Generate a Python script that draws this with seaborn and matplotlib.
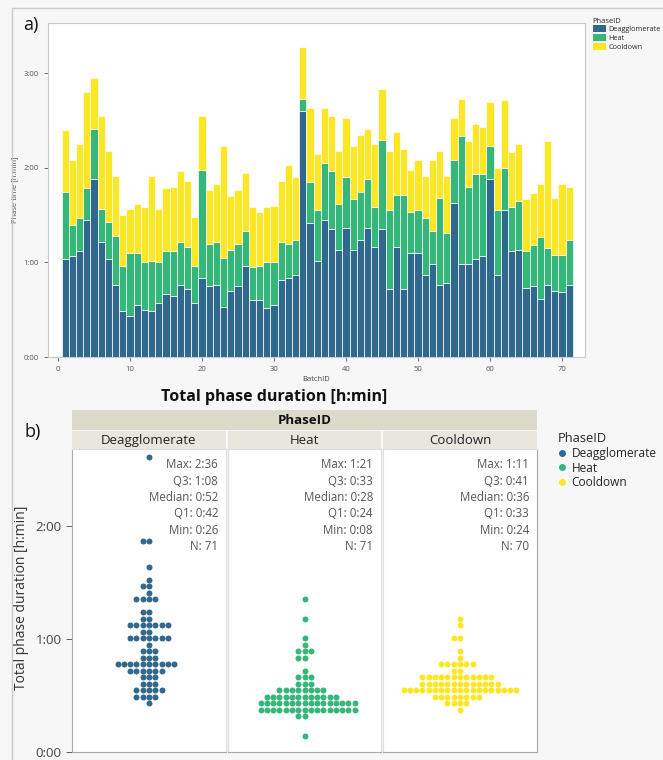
import numpy as np
import pandas as pd
import matplotlib.pyplot as plt
import seaborn as sns
from matplotlib.patches import Patch
from matplotlib.lines import Line2D
from matplotlib.ticker import FuncFormatter, MultipleLocator

# --- data (minutes per phase and batch) ---
phases = ["Deagglomerate", "Heat", "Cooldown"]
colors = ["#31688e", "#35b779", "#fde725"]
batch_ids = list(range(1, 72))

deagg = [62, 64, 67, 87, 113, 73, 62, 46, 29, 26,
         33, 30, 29, 34, 40, 39, 46, 43, 34, 50,
         45, 46, 32, 42, 45, 58, 36, 36, 31, 33,
         49, 50, 52, 156, 85, 61, 87, 81, 68, 82,
         68, 74, 82, 70, 81, 43, 70, 43, 66, 66,
         52, 59, 46, 47, 98, 59, 59, 62, 64, 113,
         52, 93, 67, 68, 44, 45, 37, 46, 42, 41, 46]
heat = [43, 20, 21, 20, 32, 21, 24, 31, 29, 40,
        33, 30, 32, 26, 27, 28, 27, 27, 24, 69,
        27, 27, 31, 26, 27, 22, 21, 22, 29, 27,
        24, 22, 22, 8, 26, 32, 36, 37, 29, 32,
        32, 31, 31, 25, 57, 50, 33, 60, 26, 27,
        36, 21, 55, 32, 27, 81, 49, 54, 52, 21,
        41, 27, 28, 31, 23, 26, 39, 23, 23, 24, 28]
cool = [39, 41, 47, 61, 32, 59, 45, 38, 32, 28,
        31, 35, 54, 34, 40, 41, 45, 42, 31, 34,
        34, 37, 71, 34, 34, 37, 38, 34, 35, 36,
        39, 50, 40, 33, 47, 36, 35, 35, 34, 38,
        34, 36, 32, 40, 32, 38, 40, 29, 27, 32,
        27, 45, 30, 36, 27, 24, 29, 32, 30, 28,
        27, 43, 35, 36, 33, 33, 34, 68, 36, 45, 34]

stats = {
    "Deagglomerate": ["Max: 2:36", "Q3: 1:08", "Median: 0:52", "Q1: 0:42", "Min: 0:26", "N: 71"],
    "Heat": ["Max: 1:21", "Q3: 0:33", "Median: 0:28", "Q1: 0:24", "Min: 0:08", "N: 71"],
    "Cooldown": ["Max: 1:11", "Q3: 0:41", "Median: 0:36", "Q1: 0:33", "Min: 0:24", "N: 70"],
}

df = pd.DataFrame({
    "BatchID": batch_ids * 3,
    "PhaseID": np.repeat(phases, len(batch_ids)),
    "Minutes": deagg + heat + cool,
})

sns.set_theme(style="white")
plt.rcParams["font.family"] = ["Open Sans", "DejaVu Sans"]

W, H = 663, 760
fig = plt.figure(figsize=(W / 100, H / 100), dpi=100, facecolor="#f7f7f7")


def px(x0, y0, x1, y1):
    # pixel box (from top-left) -> figure rect
    return [x0 / W, 1 - y1 / H, (x1 - x0) / W, (y1 - y0) / H]


def hmin(v, pos=None):
    v = int(round(v))
    return f"{v // 60}:{v % 60:02d}"


palette = dict(zip(phases, colors))
frame_col = "#c8c8c8"

# --- a) stacked phase times per batch ---
ax = fig.add_axes(px(48, 23, 585, 357))
sns.histplot(data=df, x="BatchID", weights="Minutes", hue="PhaseID",
             hue_order=phases[::-1], palette=palette, multiple="stack",
             discrete=True, shrink=1, alpha=1, edgecolor="white",
             linewidth=0.5, legend=False, ax=ax)
ax.set_facecolor("white")
ax.set_xlim(-1.4, 73.2)
ax.set_ylim(0, 212)
ax.yaxis.set_major_locator(MultipleLocator(60))
ax.yaxis.set_major_formatter(FuncFormatter(hmin))
ax.set_xticks(range(0, 71, 10))
ax.tick_params(labelsize=5.5, colors="#555555", length=3, width=0.6, direction="out",
               left=True, bottom=True)
ax.set_xlabel("BatchID", fontsize=5.5, color="#444444", labelpad=2)
ax.set_ylabel("Phase time [h:min]", fontsize=5.5, color="#444444")
for s in ax.spines.values():
    s.set_color(frame_col)
    s.set_linewidth(0.8)

handles = [Patch(facecolor=c, edgecolor="none") for c in colors]
fig.legend(handles, phases, title="PhaseID", loc="upper left",
           bbox_to_anchor=(589 / W, 1 - 14 / H), frameon=False, fontsize=5.2,
           title_fontsize=5.4, alignment="left", handlelength=1.9, handleheight=1.1,
           labelspacing=0.1, borderpad=0, handletextpad=0.25)

# --- b) swarm of phase durations ---
bw = 3.45
facets = [(72, 226), (228, 381), (383, 537)]
series = [deagg, heat, cool]
for i, (name, (x0, x1), vals, c) in enumerate(zip(phases, facets, series, colors)):
    bx = fig.add_axes(px(x0, 449, x1, 752))
    binned = (np.floor(np.array(vals) / bw) + 0.5) * bw
    sns.swarmplot(y=binned, color=c, size=4.3, linewidth=0, ax=bx)
    bx.set_facecolor("white")
    bx.set_xlim(-0.5, 0.5)
    bx.set_ylim(0, 161)
    bx.set_xticks([])
    bx.yaxis.set_major_locator(MultipleLocator(60))
    bx.yaxis.set_major_formatter(FuncFormatter(hmin))
    bx.set_ylabel("")
    if i == 0:
        bx.tick_params(axis="y", labelsize=9.5, colors="#444444", length=4, width=0.6, left=True)
    else:
        bx.tick_params(axis="y", left=False, labelleft=False)
    for s in bx.spines.values():
        s.set_color("#dddddd")
        s.set_linewidth(0.8)
    bx.spines["bottom"].set_color("#aaaaaa")
    bx.spines["left"].set_color("#aaaaaa" if i == 0 else "#dddddd")
    if i == 2:
        bx.spines["right"].set_color("#aaaaaa")

    # facet strip
    sx = fig.add_axes(px(x0, 431, x1, 449))
    sx.set_facecolor("#e9e7dd")
    sx.set_xticks([]); sx.set_yticks([])
    for s in sx.spines.values():
        s.set_visible(False)
    sx.text(0.5, 0.45, name, ha="center", va="center", fontsize=9.5, color="#222222",
            transform=sx.transAxes)

    # stats text
    for k, line in enumerate(stats[name]):
        fig.text((x1 - 8) / W, 1 - (465 + k * 16.3) / H, line, ha="right", va="center",
                 fontsize=8.3, color="#555555")

tx = fig.add_axes(px(72, 410, 537, 430))
tx.set_facecolor("#dcdacb")
tx.set_xticks([]); tx.set_yticks([])
for s in tx.spines.values():
    s.set_visible(False)
tx.text(0.5, 0.45, "PhaseID", ha="center", va="center", fontsize=9.5, fontweight="bold",
        color="#111111", transform=tx.transAxes)

fig.text(274 / W, 1 - 397 / H, "Total phase duration [h:min]", ha="center", va="center",
         fontsize=11.5, fontweight="bold", color="#111111")
fig.text(22 / W, 1 - 598 / H, "Total phase duration [h:min]", rotation=90, ha="center",
         va="center", fontsize=10, color="#333333")

dots = [Line2D([], [], marker="o", ls="", color=c, markersize=4) for c in colors]
fig.legend(dots, phases, title="PhaseID", loc="upper left",
           bbox_to_anchor=(552 / W, 1 - 426 / H), frameon=False, fontsize=8.6,
           title_fontsize=9.3, alignment="left", handlelength=0.7,
           labelspacing=0.15, borderpad=0, handletextpad=0.45)

# panel labels and outer frame
fig.text(23 / W, 1 - 25 / H, "a)", fontsize=13, va="center", color="#111111")
fig.text(25 / W, 1 - 432 / H, "b)", fontsize=13, va="center", color="#111111")
fig.add_artist(Line2D([12 / W, 1], [1 - 8 / H, 1 - 8 / H], color="#cccccc", lw=1,
                      transform=fig.transFigure))
fig.add_artist(Line2D([12 / W, 12 / W], [0, 1 - 8 / H], color="#cccccc", lw=1,
                      transform=fig.transFigure))

fig.savefig("out.png", dpi=100, facecolor=fig.get_facecolor())
